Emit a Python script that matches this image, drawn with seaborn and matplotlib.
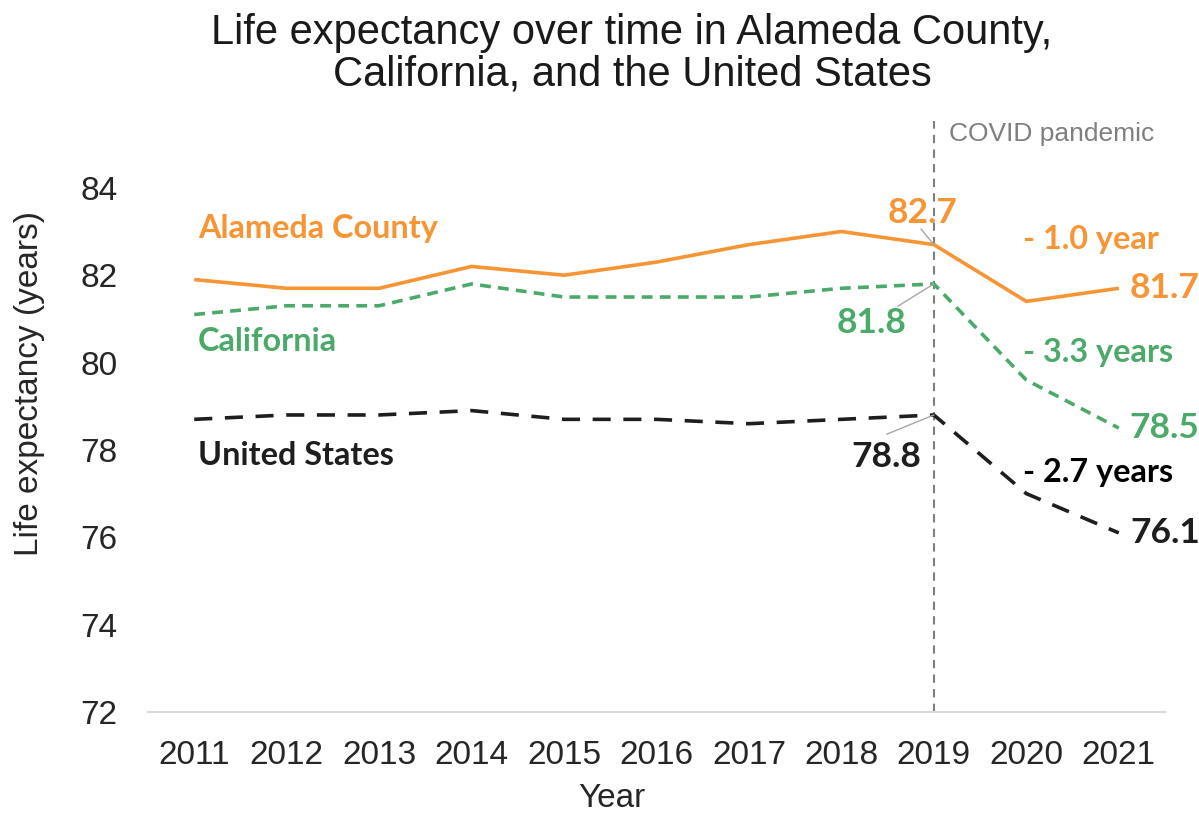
import matplotlib
matplotlib.use("Agg")
import matplotlib.pyplot as plt
import seaborn as sns
import pandas as pd

# data
years = list(range(2011, 2022))
alameda = [81.9, 81.7, 81.7, 82.2, 82.0, 82.3, 82.7, 83.0, 82.7, 81.4, 81.7]
california = [81.1, 81.3, 81.3, 81.8, 81.5, 81.5, 81.5, 81.7, 81.8, 79.6, 78.5]
united_states = [78.7, 78.8, 78.8, 78.9, 78.7, 78.7, 78.6, 78.7, 78.8, 77.0, 76.1]
series_names = ["Alameda County", "California", "United States"]
drops = ["- 1.0 year", "- 3.3 years", "- 2.7 years"]

ORANGE = "#F79433"
GREEN = "#4BAA6A"
BLACK = "#1E1E1E"
GRAY = "#7F7F7F"

sns.set_style("white")
plt.rcParams['font.family'] = ['Liberation Sans', 'DejaVu Sans']

df = pd.DataFrame({"Year": years * 3,
                   "Life": alameda + california + united_states,
                   "Series": [s for s in series_names for _ in years]})

fig = plt.figure(figsize=(11.99, 8.14), dpi=100)
ax = fig.add_axes([148 / 1199, 1 - 712 / 814, (1165 - 148) / 1199, (712 - 121) / 814])

styles = {
    "Alameda County": (ORANGE, (0, ())),
    "California": (GREEN, (0, (3, 2))),
    "United States": (BLACK, (0, (5, 3.5))),
}
for name in series_names:
    col, ls = styles[name]
    sub = df[df["Series"] == name]
    sns.lineplot(data=sub, x="Year", y="Life", ax=ax, color=col, lw=2.6,
                 linestyle=ls, legend=False)

ax.set_xlim(2010.5, 2021.5)
ax.set_ylim(72, 85.53)
ax.set_yticks(range(72, 85, 2))
ax.set_xticks(years)
ax.tick_params(axis="y", length=0, pad=22, labelsize=24, colors="#262626")
ax.tick_params(axis="x", length=0, pad=20, labelsize=24, colors="#262626")
for s in ["top", "right", "left"]:
    ax.spines[s].set_visible(False)
ax.spines["bottom"].set_color("#D9D9D9")
ax.spines["bottom"].set_linewidth(1.5)

ax.set_xlabel("Year", fontsize=24, color="#262626", va="top")
ax.set_ylabel("Life expectancy (years)", fontsize=24, color="#262626", va="center")
ax.xaxis.set_label_coords((612 - 148) / 1017, (712 - 783) / 591)
ax.yaxis.set_label_coords((30 - 148) / 1017, (712 - 383) / 591)

# covid marker
ax.axvline(2019, color=GRAY, lw=1.5, ls=(0, (4, 3)), zorder=1)
ax.text(2019.16, 85.23, "COVID pandemic", color=GRAY, fontsize=19, va="center", ha="left")

bold = dict(family=["Lato", "DejaVu Sans"], fontweight="bold", fontsize=23.3)
ax.text(2011.04, 83.06, series_names[0], color=ORANGE, va="center", ha="left", **bold)
ax.text(2011.04, 80.48, series_names[1], color=GREEN, va="center", ha="left", **bold)
ax.text(2011.04, 77.87, series_names[2], color=BLACK, va="center", ha="left", **bold)

big = dict(family=["Lato", "DejaVu Sans"], fontweight="bold", fontsize=25.5)
ax.text(2018.88, 83.43, f"{alameda[8]:.1f}", color=ORANGE, va="center", ha="center", **big)
ax.text(2018.33, 80.91, f"{california[8]:.1f}", color=GREEN, va="center", ha="center", **big)
ax.text(2018.49, 77.83, f"{united_states[8]:.1f}", color=BLACK, va="center", ha="center", **big)
ax.text(2021.12, alameda[-1], f"{alameda[-1]:.1f}", color=ORANGE, va="center", ha="left", **big)
ax.text(2021.12, california[-1], f"{california[-1]:.1f}", color=GREEN, va="center", ha="left", **big)
ax.text(2021.13, united_states[-1], f"{united_states[-1]:.1f}", color=BLACK, va="center", ha="left", **big)

ax.text(2019.96, 82.82, drops[0], color=ORANGE, va="center", ha="left", **bold)
ax.text(2019.96, 80.23, drops[1], color=GREEN, va="center", ha="left", **bold)
ax.text(2019.96, 77.49, drops[2], color="#000000", va="center", ha="left", **bold)

# leader lines
ax.plot([2018.86, 2019], [83.06, alameda[8]], color="#A6A6A6", lw=1)
ax.plot([2018.61, 2019], [81.29, california[8]], color="#A6A6A6", lw=1)
ax.plot([2018.49, 2019], [78.36, united_states[8]], color="#A6A6A6", lw=1)

fig.text(632 / 1199, 1 - 54 / 814, "Life expectancy over time in Alameda County,\nCalifornia, and the United States",
         ha="center", va="center", fontsize=30, color="#1A1A1A", linespacing=1.05)

fig.savefig("out.png", dpi=100)
